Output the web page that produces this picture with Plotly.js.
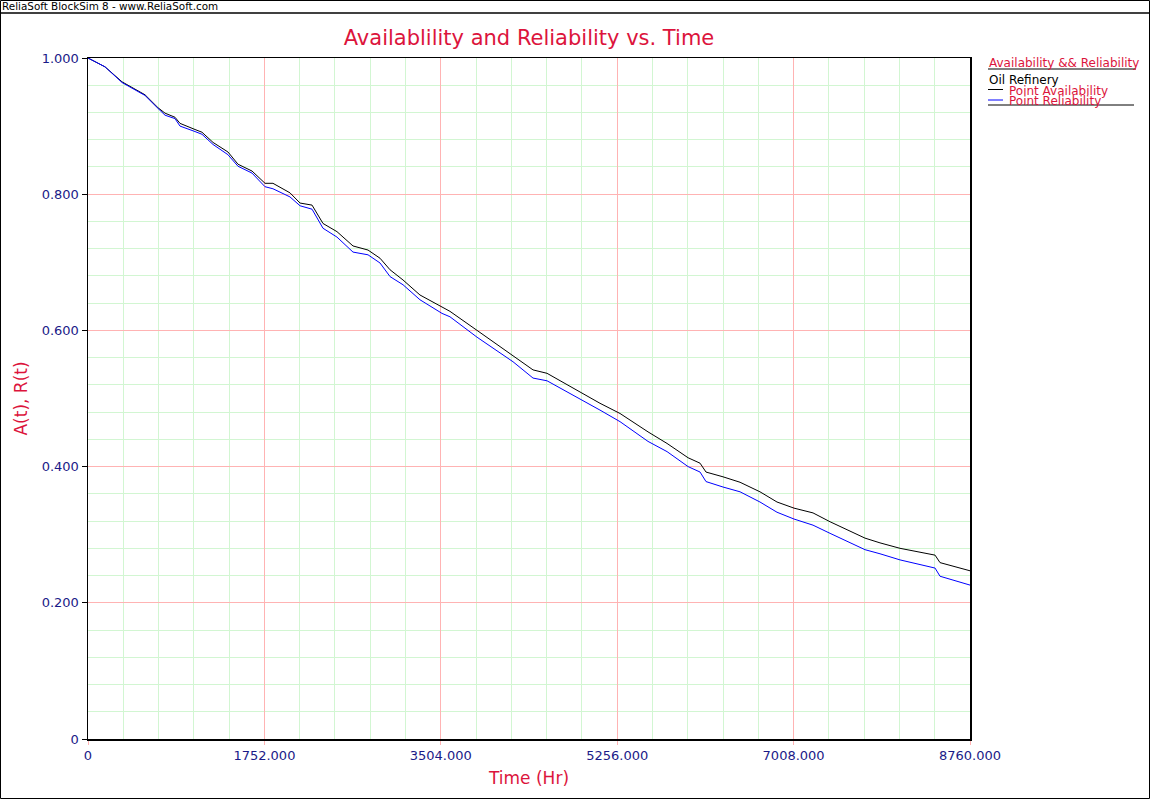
<!DOCTYPE html>
<html>
<head>
<meta charset="utf-8">
<script src="https://cdn.plot.ly/plotly-3.0.1.min.js"></script>
<style>html,body{margin:0;padding:0;background:#fff;}#chart{width:1150px;height:800px;}</style>
</head>
<body>
<div id="chart"></div>
<script>
// Time (Hr)
const timeHr = [0,169,338,437,566,695,765,864,914,1063,1132,1242,1390,1490,1629,1758,1837,2006,2106,2225,2334,2473,2632,2781,2900,3000,3129,3297,3516,3595,3864,4221,4420,4559,4757,5085,5284,5562,5751,5960,6079,6138,6307,6476,6674,6843,7012,7201,7370,7717,7866,8065,8413,8462,8760];
// Point Availability A(t)
const pointAvailability = [1.000,0.987,0.965,0.957,0.946,0.927,0.919,0.913,0.904,0.895,0.891,0.876,0.862,0.844,0.834,0.816,0.816,0.802,0.787,0.784,0.757,0.745,0.724,0.718,0.706,0.689,0.674,0.652,0.634,0.628,0.600,0.562,0.542,0.537,0.520,0.493,0.478,0.451,0.434,0.413,0.405,0.392,0.385,0.377,0.363,0.348,0.339,0.332,0.319,0.295,0.288,0.280,0.270,0.259,0.247];
// Point Reliability R(t)
const pointReliability = [1.000,0.987,0.964,0.956,0.945,0.926,0.916,0.911,0.900,0.892,0.888,0.873,0.858,0.841,0.831,0.811,0.808,0.796,0.783,0.778,0.750,0.737,0.715,0.711,0.699,0.679,0.667,0.645,0.625,0.620,0.590,0.554,0.530,0.526,0.510,0.483,0.466,0.437,0.422,0.400,0.392,0.378,0.370,0.363,0.348,0.333,0.323,0.314,0.302,0.278,0.272,0.263,0.251,0.239,0.226];

const xTickVals = [0,1752,3504,5256,7008,8760];
const xTickText = ["0","1752.000","3504.000","5256.000","7008.000","8760.000"];
const yTickVals = [0,0.2,0.4,0.6,0.8,1.0];
const yTickText = ["0","0.200","0.400","0.600","0.800","1.000"];

const FONT = "Verdana, 'DejaVu Sans', sans-serif";
const CRIMSON = "#DC143C";
const NAVY = "#1A1A88";

const traces = [
  {x: timeHr, y: pointAvailability, mode: "lines", name: "Point Availability",
   line: {color: "#000000", width: 1}},
  {x: timeHr, y: pointReliability, mode: "lines", name: "Point Reliability",
   line: {color: "#0000FF", width: 1}}
];

// pixel -> paper helpers (plot area: x 88..970, y 58..739)
const L = 88, R = 970, T = 58, B = 739;
const px = v => (v - L) / (R - L);
const py = v => (B - v) / (B - T);

const layout = {
  width: 1150, height: 800,
  margin: {l: L, r: 1150 - R, t: T, b: 800 - B, pad: 0},
  paper_bgcolor: "#FFFFFF", plot_bgcolor: "#FFFFFF",
  showlegend: false,
  font: {family: FONT, color: NAVY, size: 13},
  title: {text: "Availablility and Reliability vs. Time", font: {family: FONT, size: 21, color: CRIMSON},
          x: px(529), xref: "paper", xanchor: "center", y: 1 - 38/800, yanchor: "middle"},
  xaxis: {
    range: [0, 8760], tickmode: "array", tickvals: xTickVals, ticktext: xTickText,
    showgrid: true, gridcolor: "#FFB3B3", gridwidth: 1,
    minor: {tickmode: "linear", tick0: 0, dtick: 350.4, showgrid: true, gridcolor: "#D2F6D2", gridwidth: 1, ticks: ""},
    zeroline: false, showline: true, linecolor: "#000000", linewidth: 1.5, mirror: true,
    ticks: "outside", ticklen: 4, tickcolor: "#FFB3B3",
    tickfont: {family: FONT, size: 13, color: NAVY},
    title: {text: "Time (Hr)", font: {family: FONT, size: 17, color: CRIMSON}, standoff: 10}
  },
  yaxis: {
    range: [0, 1], tickmode: "array", tickvals: yTickVals, ticktext: yTickText,
    showgrid: true, gridcolor: "#FFB3B3", gridwidth: 1,
    minor: {tickmode: "linear", tick0: 0, dtick: 0.04, showgrid: true, gridcolor: "#D2F6D2", gridwidth: 1, ticks: ""},
    zeroline: false, showline: true, linecolor: "#000000", linewidth: 1.5, mirror: true,
    ticks: "outside", ticklen: 5, tickcolor: "#000000",
    tickfont: {family: FONT, size: 13, color: NAVY},
    title: {text: "A(t), R(t)", font: {family: FONT, size: 17, color: CRIMSON}, standoff: 9}
  },
  shapes: [
    // outer frame
    {type: "rect", xref: "paper", yref: "paper", x0: px(0.5), x1: px(1149.5), y0: py(798.5), y1: py(0.5),
     line: {color: "#000000", width: 1}},
    // header separator
    {type: "line", xref: "paper", yref: "paper", x0: px(0.5), x1: px(1149.5), y0: py(13), y1: py(13),
     line: {color: "#000000", width: 1.5}},
    // legend title underline
    {type: "line", xref: "paper", yref: "paper", x0: px(988), x1: px(1136), y0: py(69), y1: py(69),
     line: {color: "#000000", width: 1}},
    // legend samples
    {type: "line", xref: "paper", yref: "paper", x0: px(988), x1: px(1003), y0: py(89.5), y1: py(89.5),
     line: {color: "#000000", width: 1}},
    {type: "line", xref: "paper", yref: "paper", x0: px(988), x1: px(1003), y0: py(100), y1: py(100),
     line: {color: "#0000FF", width: 1}},
    // legend bottom underline
    {type: "line", xref: "paper", yref: "paper", x0: px(988), x1: px(1134), y0: py(105), y1: py(105),
     line: {color: "#000000", width: 1}}
  ],
  annotations: [
    {text: "ReliaSoft BlockSim 8 - www.ReliaSoft.com", xref: "paper", yref: "paper", x: px(1), y: py(6.5),
     xanchor: "left", yanchor: "middle", showarrow: false, borderpad: 0, font: {family: FONT, size: 10.4, color: "#000000"}},
    {text: "Availability && Reliability", xref: "paper", yref: "paper", x: px(987), y: py(63),
     xanchor: "left", yanchor: "middle", showarrow: false, font: {family: FONT, size: 12, color: CRIMSON}},
    {text: "Oil Refinery", xref: "paper", yref: "paper", x: px(987), y: py(79.5),
     xanchor: "left", yanchor: "middle", showarrow: false, font: {family: FONT, size: 12, color: "#000000"}},
    {text: "Point Availability", xref: "paper", yref: "paper", x: px(1007), y: py(91),
     xanchor: "left", yanchor: "middle", showarrow: false, font: {family: FONT, size: 12, color: CRIMSON}},
    {text: "Point Reliability", xref: "paper", yref: "paper", x: px(1007), y: py(101),
     xanchor: "left", yanchor: "middle", showarrow: false, font: {family: FONT, size: 12, color: CRIMSON}}
  ]
};

Plotly.newPlot("chart", traces, layout, {displayModeBar: false, staticPlot: true});
</script>
</body>
</html>
